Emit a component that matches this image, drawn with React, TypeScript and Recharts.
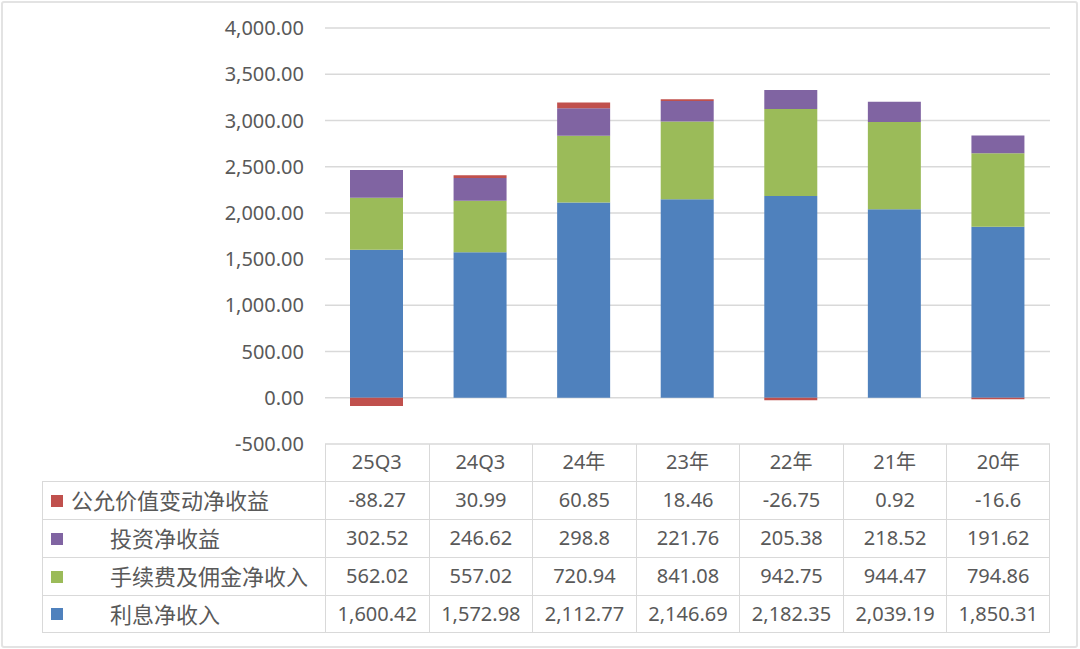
import React from 'react';
import { BarChart, Bar, XAxis, YAxis, CartesianGrid } from 'recharts';

const categories = ['25Q3', '24Q3', '24年', '23年', '22年', '21年', '20年'];
const interestIncome = [1600.42, 1572.98, 2112.77, 2146.69, 2182.35, 2039.19, 1850.31];
const feeIncome = [562.02, 557.02, 720.94, 841.08, 942.75, 944.47, 794.86];
const investIncome = [302.52, 246.62, 298.8, 221.76, 205.38, 218.52, 191.62];
const fairValueIncome = [-88.27, 30.99, 60.85, 18.46, -26.75, 0.92, -16.6];
const yTicks = [-500, 0, 500, 1000, 1500, 2000, 2500, 3000, 3500, 4000];

const series = [
  { key: 'fairValue', name: '公允价值变动净收益', values: fairValueIncome, color: '#C0504D', indent: false },
  { key: 'invest', name: '投资净收益', values: investIncome, color: '#8064A2', indent: true },
  { key: 'fee', name: '手续费及佣金净收入', values: feeIncome, color: '#9BBB59', indent: true },
  { key: 'interest', name: '利息净收入', values: interestIncome, color: '#4F81BD', indent: true },
];

const data = categories.map((name, i) => ({
  name,
  interest: interestIncome[i],
  fee: feeIncome[i],
  invest: investIncome[i],
  fairValue: fairValueIncome[i],
}));

const fmt2 = (v: number) =>
  v.toLocaleString('en-US', { minimumFractionDigits: 2, maximumFractionDigits: 2 });
const fmtCell = (v: number) =>
  v.toLocaleString('en-US', { maximumFractionDigits: 2 });

const FONT = '"Noto Sans", "Noto Sans CJK SC", sans-serif';
const TEXT = '#595959';
const LINE = '#d9d9d9';

const PLOT_LEFT = 325;
const PLOT_RIGHT = 1050;
const TABLE_LEFT = 42;
const HEADER_TOP = 444;
const ROW_TOP = 481;
const ROW_H = 38;
const COL_W = (PLOT_RIGHT - PLOT_LEFT) / categories.length;

export default function App() {
  return (
    <div
      style={{
        position: 'fixed',
        left: 0,
        top: 0,
        width: 1080,
        height: 649,
        background: '#fff',
        fontFamily: FONT,
        overflow: 'hidden',
      }}
    >
      <div
        style={{
          position: 'absolute',
          left: 1,
          top: 1,
          width: 1073,
          height: 643,
          border: '2px solid #e3e3e3',
          borderRadius: 3,
        }}
      />
      <div style={{ position: 'absolute', left: 0, top: 0 }}>
        <BarChart
          width={1080}
          height={649}
          data={data}
          stackOffset="sign"
          barSize={53}
          margin={{ top: 28, right: 1080 - PLOT_RIGHT, left: 0, bottom: 649 - ROW_TOP }}
        >
          <CartesianGrid horizontal vertical={false} stroke={LINE} strokeWidth={1.5} />
          <XAxis
            dataKey="name"
            height={ROW_TOP - HEADER_TOP}
            axisLine={false}
            tickLine={false}
            tickMargin={5}
            tick={{ fill: TEXT, fontSize: 20, fontFamily: FONT }}
          />
          <YAxis
            width={PLOT_LEFT}
            domain={[-500, 4000]}
            ticks={yTicks}
            axisLine={false}
            tickLine={false}
            tickMargin={15}
            tickFormatter={fmt2}
            tick={{ fill: TEXT, fontSize: 20, fontFamily: FONT }}
          />
          <Bar dataKey="interest" stackId="a" fill="#4F81BD" isAnimationActive={false} />
          <Bar dataKey="fee" stackId="a" fill="#9BBB59" isAnimationActive={false} />
          <Bar dataKey="invest" stackId="a" fill="#8064A2" isAnimationActive={false} />
          <Bar dataKey="fairValue" stackId="a" fill="#C0504D" isAnimationActive={false} />
        </BarChart>
      </div>

      {/* header row grid lines */}
      {categories.map((c, i) => (
        <div
          key={c}
          style={{
            position: 'absolute',
            left: PLOT_LEFT + i * COL_W,
            top: HEADER_TOP,
            width: COL_W,
            height: ROW_TOP - HEADER_TOP,
            borderLeft: `1.5px solid ${LINE}`,
            borderRight: i === categories.length - 1 ? `1.5px solid ${LINE}` : undefined,
            boxSizing: 'border-box',
          }}
        />
      ))}

      {/* data table */}
      {series.map((s, r) => (
        <div
          key={s.key}
          style={{
            position: 'absolute',
            left: TABLE_LEFT,
            top: ROW_TOP + r * ROW_H,
            width: PLOT_RIGHT - TABLE_LEFT,
            height: ROW_H,
            display: 'flex',
            color: TEXT,
            fontSize: 20,
          }}
        >
          <div
            style={{
              width: PLOT_LEFT - TABLE_LEFT,
              height: ROW_H,
              boxSizing: 'border-box',
              border: `1.5px solid ${LINE}`,
              borderRight: 'none',
              borderBottom: r === series.length - 1 ? `1.5px solid ${LINE}` : 'none',
              display: 'flex',
              alignItems: 'center',
              whiteSpace: 'nowrap',
            }}
          >
            <span
              style={{
                display: 'inline-block',
                width: 12,
                height: 12,
                background: s.color,
                marginLeft: 8,
                marginRight: s.indent ? 47 : 8,
              }}
            />
            <span
              style={{
                fontSize: 22,
                lineHeight: 1,
                marginTop: -3,
                fontFamily: '"Noto Sans CJK SC", sans-serif',
              }}
            >
              {s.name}
            </span>
          </div>
          {s.values.map((v, i) => (
            <div
              key={i}
              style={{
                width: COL_W,
                height: ROW_H,
                boxSizing: 'border-box',
                border: `1.5px solid ${LINE}`,
                borderRight: i === s.values.length - 1 ? `1.5px solid ${LINE}` : 'none',
                borderBottom: r === series.length - 1 ? `1.5px solid ${LINE}` : 'none',
                display: 'flex',
                alignItems: 'center',
                justifyContent: 'center',
                paddingBottom: 2,
              }}
            >
              {fmtCell(v)}
            </div>
          ))}
        </div>
      ))}
    </div>
  );
}
